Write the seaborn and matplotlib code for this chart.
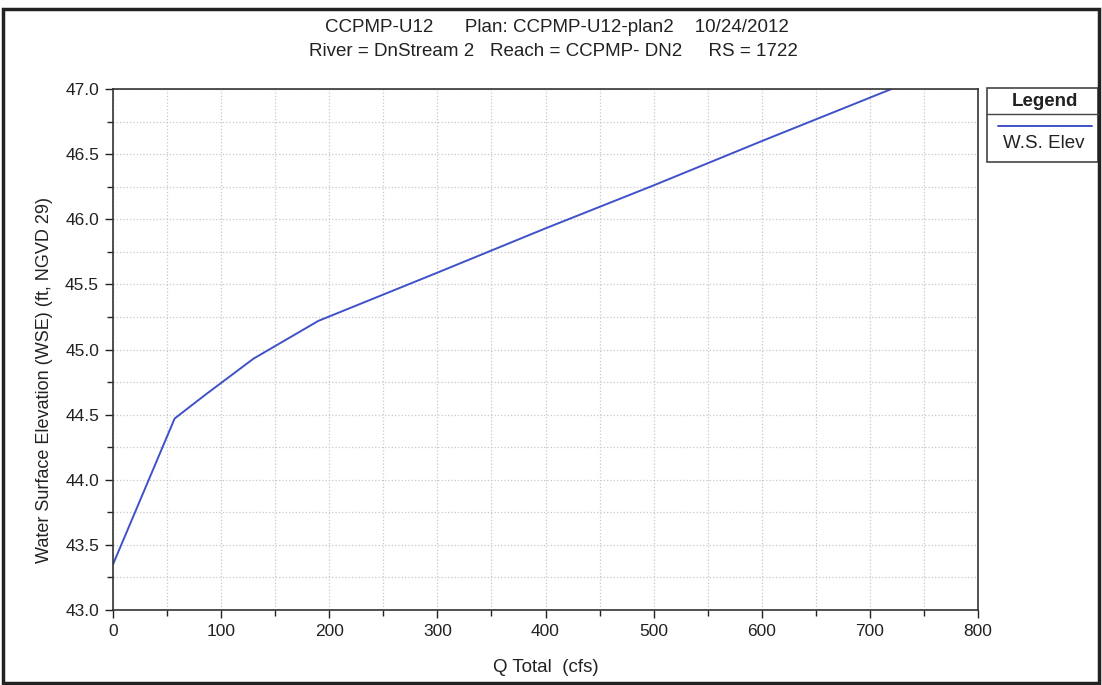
import matplotlib
matplotlib.use("Agg")
import matplotlib.pyplot as plt
from matplotlib.patches import Rectangle
from matplotlib.lines import Line2D
import seaborn as sns
import pandas as pd
import numpy as np

# Data
q_total = [0, 57, 85, 130, 190, 300, 400, 500, 600, 720]
ws_elev = [43.35, 44.47, 44.65, 44.93, 45.22, 45.59, 45.93, 46.26, 46.60, 47.0]
series_name = "W.S. Elev"
title_line1 = "CCPMP-U12      Plan: CCPMP-U12-plan2    10/24/2012"
title_line2 = "River = DnStream 2   Reach = CCPMP- DN2     RS = 1722"
xlabel = "Q Total  (cfs)"
ylabel = "Water Surface Elevation (WSE) (ft, NGVD 29)"

sns.set_theme(style="white")
plt.rcParams['font.family'] = ['Liberation Sans', 'DejaVu Sans']

df = pd.DataFrame({"Q": q_total, "WSE": ws_elev})

W, H = 1102, 685
fig = plt.figure(figsize=(W / 100, H / 100), dpi=100)
ax = fig.add_axes([113/W, 1-610/H, (978-113)/W, (610-89)/H])

sns.lineplot(data=df, x="Q", y="WSE", ax=ax, color="#3f51c9", linewidth=1.4, legend=False)

ax.set_xlim(0, 800)
ax.set_ylim(43.0, 47.0)
ax.set_xticks(np.arange(0, 801, 100))
ax.set_xticks(np.arange(0, 801, 50), minor=True)
ax.set_yticks(np.arange(43.0, 47.01, 0.5))
ax.set_yticks(np.arange(43.0, 47.01, 0.25), minor=True)
ax.set_yticklabels([f"{v:.1f}" for v in np.arange(43.0, 47.01, 0.5)])
ax.grid(True, which="both", color="#c8c8c8", linestyle=":", linewidth=0.9)
ax.tick_params(axis="both", which="major", direction="out", length=6, width=1, colors="#222222",
               labelsize=12.5, bottom=True, left=True, pad=4)
ax.tick_params(axis="both", which="minor", direction="out", length=4, width=1, colors="#222222",
               bottom=True, left=True)
for s in ax.spines.values():
    s.set_color("#333333")
    s.set_linewidth(1.2)

ax.set_xlabel(xlabel, fontsize=13.5, color="#222222")
ax.set_ylabel(ylabel, fontsize=13, color="#222222")
ax.xaxis.set_label_coords(0.5, -(668 - 610) / (610 - 89), transform=ax.transAxes)
ax.xaxis.label.set_va("center")
ax.yaxis.set_label_coords(-(113 - 45) / (978 - 113), (610 - 380) / (610 - 89), transform=ax.transAxes)
ax.yaxis.label.set_va("center")

fig.text(557/W, 1-27/H, title_line1, ha="center", va="center", fontsize=13.5, color="#222222")
fig.text(553/W, 1-52/H, title_line2, ha="center", va="center", fontsize=13.5, color="#222222")

# Legend box (custom layout, as in the reference)
def fx(x): return x / W
def fy(y): return 1 - y / H
fig.patches.append(Rectangle((fx(987), fy(162)), fx(1098) - fx(987), fy(88) - fy(162),
                             transform=fig.transFigure, fill=False, edgecolor="#444444", linewidth=1.2))
fig.lines.append(Line2D([fx(987), fx(1098)], [fy(114), fy(114)], transform=fig.transFigure,
                        color="#444444", linewidth=1.0))
fig.text(fx(1045), fy(101), "Legend", ha="center", va="center", fontsize=13.5, fontweight="bold", color="#222222")
fig.lines.append(Line2D([fx(998), fx(1092)], [fy(126), fy(126)], transform=fig.transFigure,
                        color="#3f51c9", linewidth=1.4))
fig.text(fx(1044), fy(143), series_name, ha="center", va="center", fontsize=13.5, color="#222222")

# Outer frame
fig.patches.append(Rectangle((fx(3), fy(683)), fx(1099) - fx(3), fy(9) - fy(683),
                             transform=fig.transFigure, fill=False, edgecolor="#222222", linewidth=2.5))

fig.savefig("out.png", dpi=100)
